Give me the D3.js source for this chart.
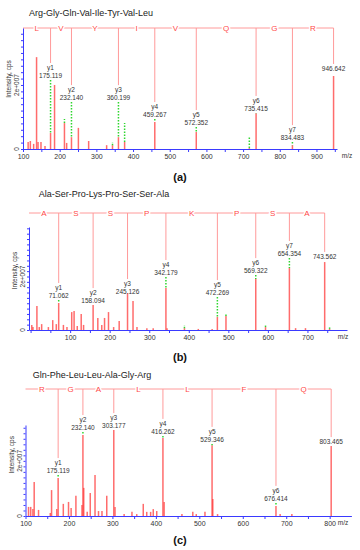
<!DOCTYPE html>
<html><head><meta charset="utf-8">
<script src="https://cdn.jsdelivr.net/npm/d3@7"></script>
<style>body{margin:0;background:#fff}svg{display:block}</style>
</head><body><svg id="c" width="360" height="550"></svg>
<script>
// ---------- Panel (a) ----------
const titleA = "Arg-Gly-Gln-Val-Ile-Tyr-Val-Leu";
const seqA = ["L","V","Y","I","V","Q","G","R"];
const ionNameA = ["y1","y2","y3","y4","y5","y6","y7",""];
const ionMzA = [175.119,232.140,360.199,459.267,572.352,735.415,834.483,946.642];
const ionLabelA = [25.3,18.4,18.4,13.1,10.6,15.0,5.9,25.0];
const peakMzA = [114,120,129,137,141,149,160,175.119,186,213,219,232.140,251,279,328,344,360.199,377,459.267,572.352,717,735.415,834.483,946.642];
const peakIntA = [2.2,2.5,1.6,28.7,2.2,2.2,0.9,5.0,20.0,8.1,1.9,3.7,6.6,2.5,1.2,1.2,3.7,2.2,8.4,5.3,0.3,11.2,1.2,22.8];
const greenMzA = [213,344,377,717];
const greenHiA = [9.4,2.2,8.1,3.7];
const greenLoA = [8.1,1.2,2.2,0.3];

// ---------- Panel (b) ----------
const titleB = "Ala-Ser-Pro-Lys-Pro-Ser-Ser-Ala";
const seqB = ["A","S","S","P","K","P","S","A"];
const ionNameB = ["y1","y2","y3","y4","y5","y6","y7",""];
const ionMzB = [71.062,158.094,245.126,342.179,472.269,569.322,654.354,743.562];
const ionLabelB = [15.7,13.8,17.2,24.3,16.8,25.0,31.4,27.3];
const peakMzB = [3,6,16,22,28,45,56,65,71.062,83,92,104,110,118,128,134,158.094,170,180,187,197,210,224,245.126,259,269,294,310,342.179,345,389,424,459,472.269,494,569.322,594,654.354,670,695,743.562,756];
const peakIntB = [1.9,1.1,9.0,1.1,2.2,1.1,3.7,2.2,10.1,1.9,1.1,6.7,7.1,1.5,6.0,1.9,9.3,4.5,1.9,4.5,6.7,1.1,3.4,13.8,10.8,1.1,0.7,0.7,15.7,0.7,0.7,0.4,0.4,4.9,5.2,19.1,1.1,23.2,0.7,0.7,25.4,0.4];
const greenMzB = [494,594,389,756];
const greenHiB = [6.4,2.2,1.9,1.1];
const greenLoB = [5.2,1.1,0.7,0.4];

// ---------- Panel (c) ----------
const titleC = "Gln-Phe-Leu-Leu-Ala-Gly-Arg";
const seqC = ["R","G","A","L","L","F","Q"];
const ionNameC = ["y1","y2","y3","y4","y5","y6",""];
const ionMzC = [175.119,232.140,303.177,416.262,529.346,676.414,803.465];
const ionLabelC = [19.2,34.8,35.5,33.4,30.5,9.1,26.8];
const peakMzC = [107,112,117,120,130,157,160,172,175.119,187,199,205,216,230,232.140,234,242,249,260,268,276,287,303.177,306,327,345,356,371,379,388,394,402,416.262,419,460,485,493,513,529.346,531,542,676.414,686,713,803.465];
const peakIntC = [3.3,3.3,2.5,12.3,2.2,1.1,9.4,2.5,13.8,4.4,5.1,2.9,7.3,4.0,29.4,10.2,1.5,8.3,14.9,1.8,1.8,7.3,31.2,3.3,0.7,1.5,0.7,4.4,1.5,1.5,2.5,1.8,28.3,5.1,0.7,1.5,0.7,1.5,25.7,6.2,0.7,3.6,0.7,0.7,25.4];
const greenMzC = [];
const greenHiC = [];
const greenLoC = [];

const yTickLabels = ["0","2e+007"];
const yTickValues = [0,20];
const axisTitle = "Intensity, cps";
const xAxisTitle = "m/z";
const panelTags = ["(a)","(b)","(c)"];

const svg = d3.select("#c");
const FONT = "'Liberation Sans', Arial, sans-serif";
const RED = "#ff3b3b", PALE = "#ff9a9a", GREEN = "#2fd62f", BLUE = "#3a3aff", TXT = "#333";

const panels = [
  {title:titleA, tx:91, ty:16, ladderY:28, top:28, base:149, x0:23, x1:337, dom:[100,956], yMax:37.8, xmax:900,
   seq:seqA, names:ionNameA, mz:ionMzA, lab:ionLabelA, pmz:peakMzA, pint:peakIntA, gmz:greenMzA, ghi:greenHiA, glo:greenLoA, tag:panelTags[0], tagY:181, mzX:347},
  {title:titleB, tx:104, ty:197, ladderY:213, top:227, base:330, x0:29, x1:347, dom:[-4,800], yMax:38.5, xmax:700,
   seq:seqB, names:ionNameB, mz:ionMzB, lab:ionLabelB, pmz:peakMzB, pint:peakIntB, gmz:greenMzB, ghi:greenHiB, glo:greenLoB, tag:panelTags[1], tagY:361, mzX:343},
  {title:titleC, tx:92, ty:378, ladderY:389, top:425, base:516, x0:25.5, x1:351.4, dom:[100,850], yMax:33, xmax:800,
   seq:seqC, names:ionNameC, mz:ionMzC, lab:ionLabelC, pmz:peakMzC, pint:peakIntC, gmz:greenMzC, ghi:greenHiC, glo:greenLoC, tag:panelTags[2], tagY:544, mzX:343}
];

panels.forEach(p => {
  const g = svg.append("g");
  const x = d3.scaleLinear().domain(p.dom).range([p.x0, p.x1]);
  const y = d3.scaleLinear().domain([0, p.yMax]).range([p.base, p.top]);

  // title
  g.append("text").attr("x", p.tx).attr("y", p.ty).attr("text-anchor","middle")
    .attr("font-family", FONT).attr("font-size", 9).attr("fill", "#222").text(p.title);

  // peaks
  g.selectAll(".pk").data(d3.zip(p.pmz, p.pint)).join("line")
    .attr("x1", d => x(d[0])).attr("x2", d => x(d[0]))
    .attr("y1", y(0)).attr("y2", d => y(d[1]))
    .attr("stroke", RED).attr("stroke-width", 1.5).attr("stroke-opacity", 0.75);

  // unlabeled matched (green dotted)
  g.selectAll(".gm").data(d3.zip(p.gmz, p.ghi, p.glo)).join("line")
    .attr("x1", d => x(d[0])).attr("x2", d => x(d[0]))
    .attr("y1", d => y(d[2])).attr("y2", d => y(d[1]))
    .attr("stroke", GREEN).attr("stroke-width", 1.5).attr("stroke-dasharray", "1.5,1.5");

  // ladder
  const bounds = [p.dom[0]].concat(p.mz);
  g.append("line").attr("x1", x(bounds[0])).attr("x2", x(bounds[bounds.length-1]))
    .attr("y1", p.ladderY).attr("y2", p.ladderY).attr("stroke", PALE).attr("stroke-width", 1);
  const ions = p.mz.map((m,i) => ({m, name:p.names[i], lab:p.lab[i], pk:p.pint[p.pmz.indexOf(m)]}));
  g.selectAll(".lv").data(ions).join("line")
    .attr("x1", d => x(d.m)).attr("x2", d => x(d.m))
    .attr("y1", p.ladderY).attr("y2", d => y(d.lab) - 5)
    .attr("stroke", PALE).attr("stroke-width", 1);
  g.selectAll(".lt").data(p.seq).join("text")
    .attr("x", (d,i) => (x(bounds[i]) + x(bounds[i+1])) / 2)
    .attr("y", p.ladderY).attr("dy", "0.35em").attr("text-anchor","middle")
    .attr("font-family", FONT).attr("font-size", 8).attr("fill", "#ff4a4a")
    .attr("stroke", "#fff").attr("stroke-width", 3).attr("paint-order", "stroke")
    .text(d => d);

  // ion labels
  ions.forEach(d => {
    const cx = x(d.m), ly = y(d.lab);
    if (d.name) {
      g.append("text").attr("x", cx).attr("y", ly).attr("dy","0.35em").attr("text-anchor","middle")
        .attr("font-family", FONT).attr("font-size", 6.5).attr("fill", TXT).text(d.name);
      g.append("text").attr("x", cx).attr("y", ly + 7.5).attr("dy","0.35em").attr("text-anchor","middle")
        .attr("font-family", FONT).attr("font-size", 6.5).attr("fill", TXT).text(d.m.toFixed(3));
      const gy = ly + 12, py = y(d.pk);
      if (py > gy) g.append("line").attr("x1", cx).attr("x2", cx).attr("y1", gy).attr("y2", py)
        .attr("stroke", GREEN).attr("stroke-width", 1.5).attr("stroke-dasharray", "1.5,1.5");
    } else {
      g.append("text").attr("x", cx).attr("y", ly).attr("dy","0.35em").attr("text-anchor","middle")
        .attr("font-family", FONT).attr("font-size", 6.5).attr("fill", TXT).text(d.m.toFixed(3));
    }
  });

  // x axis
  const xt = d3.range(Math.ceil(p.dom[0]/50)*50, p.dom[1], 50);
  const xa = g.append("g").attr("transform", `translate(0,${p.base})`)
    .call(d3.axisBottom(x).tickValues(xt).tickSize(3).tickSizeOuter(0)
      .tickFormat(d => (d % 100 === 0 && d > 0 && d <= p.xmax) ? d : ""));
  xa.select(".domain").attr("stroke", BLUE);
  xa.selectAll(".tick line").attr("stroke", BLUE);
  xa.selectAll("text").attr("font-family", FONT).attr("font-size", 7).attr("fill", TXT).attr("dy", "0.55em");
  g.append("text").attr("x", p.mzX).attr("y", p.base + 9).attr("text-anchor","middle")
    .attr("font-family", FONT).attr("font-size", 6.5).attr("fill", TXT).text(xAxisTitle);

  // y axis
  const ya = g.append("g").attr("transform", `translate(${p.x0},0)`)
    .call(d3.axisLeft(y).tickValues(d3.range(0, p.yMax, 2)).tickSize(2).tickSizeOuter(0).tickFormat(""));
  ya.select(".domain").attr("stroke", BLUE);
  ya.selectAll(".tick line").attr("stroke", BLUE);
  yTickValues.forEach((v,i) => {
    g.append("text").attr("transform", `translate(${p.x0 - 4},${y(v)}) rotate(-90)`)
      .attr("text-anchor","middle").attr("font-family", FONT).attr("font-size", 6.5).attr("fill", TXT)
      .text(yTickLabels[i]);
  });
  g.append("text").attr("transform", `translate(${p.x0 - 12},${y(20) - 6}) rotate(-90)`)
    .attr("text-anchor","middle").attr("font-family", FONT).attr("font-size", 6.5).attr("fill", TXT)
    .text(axisTitle);

  // panel tag
  g.append("text").attr("x", 180).attr("y", p.tagY).attr("text-anchor","middle")
    .attr("font-family", FONT).attr("font-size", 11).attr("font-weight","bold").attr("fill", "#111").text(p.tag);
});
</script></body></html>
